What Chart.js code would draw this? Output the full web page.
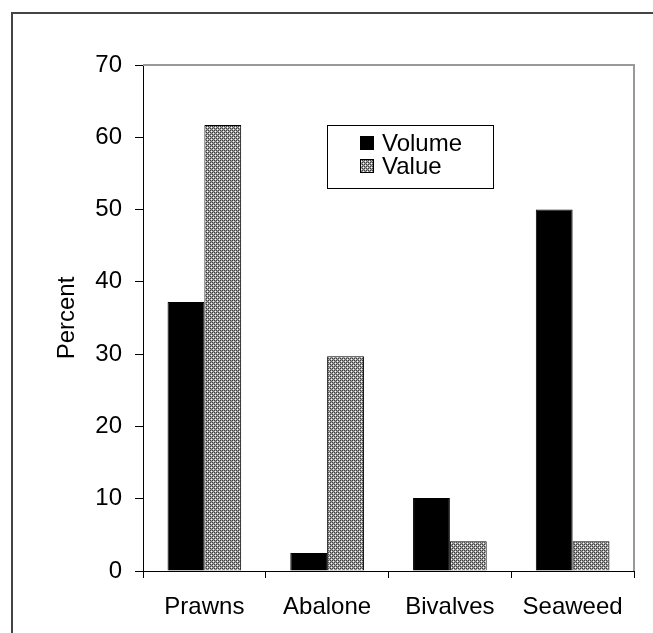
<!DOCTYPE html>
<html lang="en">
<head>
<meta charset="UTF-8">
<title>Production by Group</title>
<script src="https://cdn.jsdelivr.net/npm/chart.js"></script>
<style>
    body { margin: 0; background: #fff; }
    #chart-container { width: 653px; height: 633px; }
</style>
</head>
<body>
<div id="chart-container"><canvas id="chart" width="653" height="633"></canvas></div>
<script>
    const categories = ['Prawns', 'Abalone', 'Bivalves', 'Seaweed'];
    const seriesNames = ['Volume', 'Value'];
    const volumeData = [37.2, 2.5, 10.1, 50.0];
    const valueData = [61.7, 29.7, 4.1, 4.1];
    const yMin = 0, yMax = 70, yStep = 10;
    const axisTitle = 'Percent';

    const FONT = '"Liberation Sans", Arial, sans-serif';

    // small dotted grey fill used for the Value bars
    function makeDotPattern() {
        const c = document.createElement('canvas');
        c.width = 4; c.height = 4;
        const p = c.getContext('2d');
        const rows = [
            ['#3c3c3c', '#a0a0a0', '#3c3c3c', '#a0a0a0'],
            ['#a0a0a0', '#ffffff', '#a0a0a0', '#707070'],
            ['#3c3c3c', '#a0a0a0', '#3c3c3c', '#a0a0a0'],
            ['#a0a0a0', '#707070', '#a0a0a0', '#ffffff']
        ];
        rows.forEach((row, y) => row.forEach((col, x) => {
            p.fillStyle = col;
            p.fillRect(x, y, 1, 1);
        }));
        return p.createPattern(c, 'repeat');
    }

    const canvas = document.getElementById('chart');
    const ctx = canvas.getContext('2d');
    const dotPattern = makeDotPattern();

    const framePlugin = {
        id: 'frame',
        beforeDraw(chart) {
            const c = chart.ctx;
            c.save();
            c.fillStyle = '#fff';
            c.fillRect(0, 0, chart.width, chart.height);
            c.strokeStyle = '#444';
            c.lineWidth = 2;
            c.strokeRect(12, 13, chart.width + 20, chart.height + 20);
            c.restore();
        },
        afterDraw(chart) {
            const a = chart.chartArea;
            const c = chart.ctx;
            c.save();
            c.strokeStyle = '#999';
            c.lineWidth = 2;
            c.beginPath();
            c.moveTo(a.left, a.top);
            c.lineTo(a.right, a.top);
            c.lineTo(a.right, a.bottom);
            c.stroke();
            c.restore();
        }
    };

    // boxed legend sitting inside the plot area
    const boxLegend = {
        id: 'boxLegend',
        afterDatasetsDraw(chart) {
            const c = chart.ctx;
            c.save();
            c.fillStyle = '#fff';
            c.fillRect(327.5, 125.5, 166, 63);
            c.strokeStyle = '#000';
            c.lineWidth = 1;
            c.strokeRect(327.5, 125.5, 166, 63);
            chart.data.datasets.forEach((ds, i) => {
                const y = 143 + i * 23;
                c.fillStyle = ds.backgroundColor;
                c.fillRect(360, y - 7, 14, 14);
                c.strokeStyle = '#000';
                c.strokeRect(360.5, y - 6.5, 13, 13);
                c.fillStyle = '#000';
                c.font = '24px ' + FONT;
                c.textBaseline = 'middle';
                c.textAlign = 'left';
                c.fillText(ds.label, 382, y + 1);
            });
            c.restore();
        }
    };

    new Chart(ctx, {
        type: 'bar',
        data: {
            labels: categories,
            datasets: [
                {
                    label: seriesNames[0],
                    data: volumeData,
                    backgroundColor: '#000',
                    borderColor: '#000',
                    borderWidth: 1
                },
                {
                    label: seriesNames[1],
                    data: valueData,
                    backgroundColor: dotPattern,
                    borderColor: '#000',
                    borderWidth: 1
                }
            ]
        },
        options: {
            responsive: false,
            animation: false,
            layout: { padding: { top: 65, right: 19, left: 0, bottom: 0 } },
            datasets: { bar: { categoryPercentage: 0.6, barPercentage: 1.0 } },
            plugins: {
                legend: { display: false },
                tooltip: { enabled: false }
            },
            scales: {
                x: {
                    grid: {
                        offset: true,
                        drawOnChartArea: false,
                        drawTicks: true,
                        tickLength: 7,
                        color: '#000',
                        lineWidth: 1
                    },
                    border: { color: '#000', width: 1 },
                    ticks: {
                        color: '#000',
                        font: { family: FONT, size: 24 },
                        padding: 15,
                        maxRotation: 0
                    },
                    afterFit(scale) { scale.height = 62; }
                },
                y: {
                    min: yMin,
                    max: yMax,
                    grid: {
                        drawOnChartArea: false,
                        drawTicks: true,
                        tickLength: 8,
                        color: '#000',
                        lineWidth: 1
                    },
                    border: { color: '#000', width: 1 },
                    ticks: {
                        stepSize: yStep,
                        color: '#000',
                        font: { family: FONT, size: 24 },
                        padding: 13
                    },
                    title: {
                        display: true,
                        text: axisTitle,
                        color: '#000',
                        font: { family: FONT, size: 24 },
                        padding: { top: 53, bottom: 0 }
                    },
                    afterFit(scale) { scale.width = 143; }
                }
            }
        },
        plugins: [framePlugin, boxLegend]
    });
</script>
</body>
</html>
